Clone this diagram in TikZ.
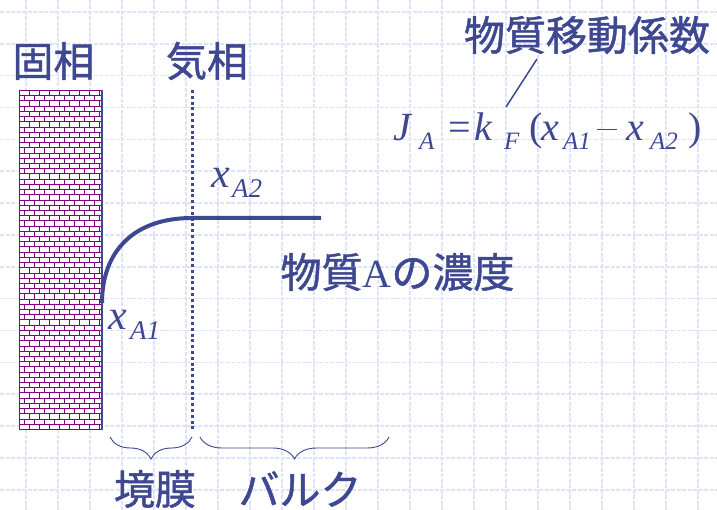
\documentclass[tikz,border=0pt]{standalone}
\usepackage{fontspec}
\setmainfont{Liberation Serif}
\newfontfamily\jp[FakeBold=1.2]{Noto Sans CJK JP}
\usetikzlibrary{decorations.pathreplacing}
\definecolor{ink}{RGB}{62,72,145}
\definecolor{brickc}{RGB}{128,0,128}
\definecolor{gridc}{RGB}{222,227,251}
\newcommand{\bigf}{\fontsize{40}{40}\selectfont}
\newcommand{\subf}{\fontsize{25}{25}\selectfont}
\begin{document}
\begin{tikzpicture}[x=1pt,y=-1pt,
  jtext/.style={font=\jp\fontsize{41}{41}\selectfont, text=ink, inner sep=0pt},
  mtext/.style={font=\bigf, text=ink, inner sep=0pt, anchor=base west},
  stext/.style={font=\subf\itshape, text=ink, inner sep=0pt, anchor=base west},
  gridline/.style={gridc, line width=1.5pt, dash pattern=on 4pt off 1.5pt},
  brick/.style={brickc, line width=1.1pt},
  brace/.style={ink, line width=0.9pt, decorate, decoration={brace, mirror, amplitude=22pt}}]
\useasboundingbox (0,0) rectangle (717,510);
\fill[white] (0,0) rectangle (717,510);
% grid
\foreach \k in {0,...,21} {\draw[gridline] (26+\k*32,0) -- (26+\k*32,510);}
\foreach \k in {0,...,15} {\draw[gridline] (0,12+\k*31.85) -- (717,12+\k*31.85);}
% brick wall
\begin{scope}
\clip (19,90) rectangle (102,430);
\fill[white] (19,90) rectangle (102,430);
\foreach \i in {0,...,65} {
  \pgfmathsetmacro\yy{90.5+round(\i*5.215)}
  \draw[brick] (19,\yy) -- (102,\yy);}
\foreach \i in {0,...,64} {
  \pgfmathsetmacro\yy{90.5+round(\i*5.215)}
  \pgfmathsetmacro\yb{90.5+round((\i+1)*5.215)}
  \pgfmathsetmacro\off{mod(\i,2)*5}
  \foreach \j in {0,...,8} {\draw[brick] (19.5+\off+\j*10,\yy) -- (19.5+\off+\j*10,\yb);}
}
\draw[brick] (19.5,90) -- (19.5,430);
\end{scope}
\draw[ink, line width=2.4pt] (102,90) -- (102,430);
% dotted interface
\draw[ink, line width=3pt, dash pattern=on 3pt off 2.8pt] (192,90) -- (192,429);
% concentration curve
\draw[ink, line width=4pt] (102,303) .. controls (102,252) and (133,218) .. (192,218) -- (321,218);
% labels
\node[jtext] (solid) at (53.5,61) {固相};
\node[jtext] (gas) at (207,61) {気相};
\node[jtext] (coef) at (587,35) {物質移動係数};
\node[jtext] (conc) at (397.5,272) {物質{\rmfamily\fontsize{40}{40}\selectfont A}の濃度};
\node[jtext] (film) at (155,489) {境膜};
\node[jtext] (bulk) at (300,489) {バルク};
% braces
\coordinate (b1a) at (110,437);
\coordinate (b1b) at (192,437);
\coordinate (b2a) at (200,437);
\coordinate (b2b) at (389,437);
\draw[brace] (b1a) -- (b1b);
\draw[brace] (b2a) -- (b2b);
% x labels
\node[mtext, font=\fontsize{42}{42}\selectfont\itshape] (xa2) at (211,188) {x};
\node[stext, font=\fontsize{27}{27}\selectfont\itshape] (xa2s) at (232,198) {A2};
\node[mtext, font=\fontsize{42}{42}\selectfont\itshape] (xa1) at (108,330) {x};
\node[stext, font=\fontsize{27}{27}\selectfont\itshape] (xa1s) at (130,340) {A1};
% formula
\node[mtext, font=\bigf\itshape] (fJ) at (393,141) {J};
\node[stext] (fJs) at (419,150) {A};
\node[mtext] (feq) at (448,141) {=};
\node[mtext, font=\bigf\itshape] (fk) at (474,141) {k};
\node[stext] (fks) at (504,150) {F};
\node[mtext] (flp) at (529,141) {(};
\node[mtext, font=\bigf\itshape] (fx1) at (541,141) {x};
\node[stext] (fx1s) at (563,150) {A1};
\node[mtext] (fmin) at (597,141) {\rule[10.5pt]{20pt}{1.7pt}};
\node[mtext, font=\bigf\itshape] (fx2) at (626,141) {x};
\node[stext] (fx2s) at (650,150) {A2};
\node[mtext] (frp) at (688,141) {)};
% pointer line
\coordinate (pt) at (537,59);
\coordinate (pb) at (506,107);
\draw[ink, line width=1.5pt] (pt) -- (pb);
\end{tikzpicture}
\end{document}
